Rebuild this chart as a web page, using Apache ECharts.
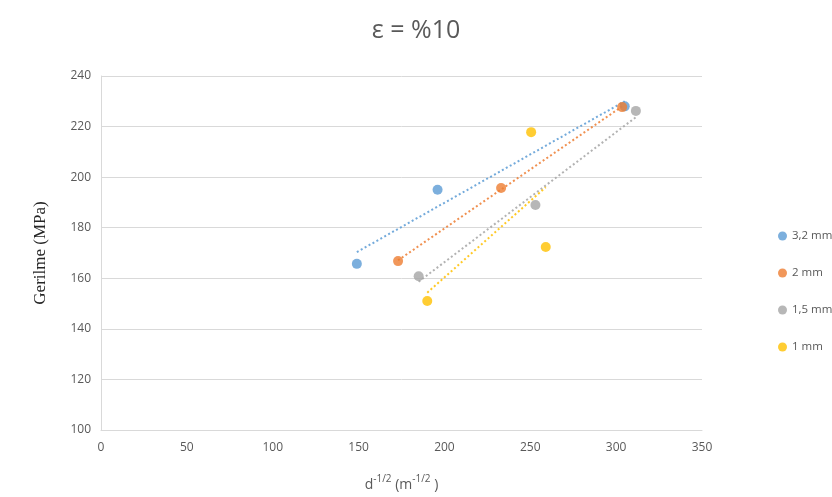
<!DOCTYPE html>
<html><head><meta charset="utf-8">
<script src="https://cdn.jsdelivr.net/npm/echarts@6/dist/echarts.min.js"></script>
<style>html,body{margin:0;padding:0;background:#fff}#c{width:832px;height:497px}</style>
</head><body><div id="c"></div>
<script>
var seriesNames = ['3,2 mm', '2 mm', '1,5 mm', '1 mm'];
var xBlue = [149, 196, 305];
var yBlue = [165.7, 195, 228];
var xOrange = [173, 233, 303.5];
var yOrange = [166.8, 195.7, 227.7];
var xGray = [185, 253, 311.5];
var yGray = [160.8, 189, 226.2];
var xYellow = [190, 250.5, 259];
var yYellow = [151, 217.8, 172.4];
var xTicks = [0, 50, 100, 150, 200, 250, 300, 350];
var yTicks = [100, 120, 140, 160, 180, 200, 220, 240];
var colors = ['#5B9BD5', '#ED7D31', '#A5A5A5', '#FFC000'];

var xs = [xBlue, xOrange, xGray, xYellow];
var ys = [yBlue, yOrange, yGray, yYellow];

function trend(x, y) {
  var n = x.length, mx = 0, my = 0;
  for (var i = 0; i < n; i++) { mx += x[i]; my += y[i]; }
  mx /= n; my /= n;
  var sxx = 0, sxy = 0;
  for (var i = 0; i < n; i++) { sxx += (x[i]-mx)*(x[i]-mx); sxy += (x[i]-mx)*(y[i]-my); }
  var b = sxy / sxx, a = my - b * mx;
  var x0 = Math.min.apply(null, x), x1 = Math.max.apply(null, x);
  return [[x0, a + b * x0], [x1, a + b * x1]];
}

var series = [];
for (var k = 0; k < 4; k++) {
  series.push({
    name: seriesNames[k] + '_trend', type: 'line', data: trend(xs[k], ys[k]),
    symbol: 'none', silent: true, z: 1,
    lineStyle: { color: colors[k], width: 2, type: [2, 2.5], opacity: 0.85 }
  });
}
for (var k = 0; k < 4; k++) {
  series.push({
    name: seriesNames[k], type: 'scatter', symbol: 'circle', symbolSize: 10, z: 3,
    itemStyle: { color: colors[k] },
    data: xs[k].map(function (v, i) { return [v, ys[k][i]]; })
  });
}

var chart = echarts.init(document.getElementById('c'));
chart.setOption({
  animation: false,
  backgroundColor: '#fff',
  title: {
    text: 'ε = %10', left: 'center', top: 13,
    textStyle: { fontFamily: 'Open Sans', fontSize: 25, fontWeight: 'normal', color: '#595959' }
  },
  legend: {
    orient: 'vertical', left: 773, top: 225, itemGap: 25,
    icon: 'circle', itemWidth: 9, itemHeight: 9,
    data: seriesNames,
    textStyle: { fontFamily: 'Open Sans', fontSize: 11.5, color: '#595959' }
  },
  grid: { left: 101, right: 130, top: 76, bottom: 67, containLabel: false, outerBoundsMode: 'none' },
  xAxis: {
    type: 'value', min: xTicks[0], max: xTicks[xTicks.length-1], interval: 50,
    axisLine: { lineStyle: { color: '#d9d9d9' } },
    axisTick: { show: false },
    splitLine: { show: false },
    axisLabel: { color: '#595959', fontFamily: 'Open Sans', fontSize: 12, margin: 12 },
    name: '{b|d}{s|-1/2}{b| (m}{s|-1/2}{b| )}',
    nameLocation: 'middle', nameGap: 44,
    nameTextStyle: {
      rich: {
        b: { fontFamily: 'Open Sans', fontSize: 14, color: '#595959', verticalAlign: 'bottom', lineHeight: 18 },
        s: { fontFamily: 'Open Sans', fontSize: 10, color: '#595959', verticalAlign: 'top', lineHeight: 18 }
      }
    }
  },
  yAxis: {
    type: 'value', min: yTicks[0], max: yTicks[yTicks.length-1], interval: 20,
    axisLine: { show: true, lineStyle: { color: '#d9d9d9' } },
    axisTick: { show: false },
    splitLine: { lineStyle: { color: '#d9d9d9' } },
    axisLabel: { color: '#595959', fontFamily: 'Open Sans', fontSize: 12, margin: 10 },
    name: 'Gerilme (MPa)', nameLocation: 'middle', nameGap: 52, nameRotate: 90,
    nameTextStyle: { fontFamily: 'Liberation Serif', fontSize: 17, color: '#262626' }
  },
  series: series
});
</script></body></html>
